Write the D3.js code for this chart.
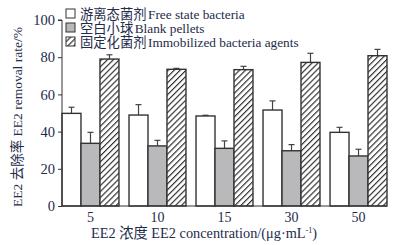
<!DOCTYPE html>
<html><head><meta charset="utf-8">
<script src="https://cdn.jsdelivr.net/npm/d3@7"></script>
<style>body{margin:0;background:#fff}svg{display:block}text{font-family:"Liberation Serif","Noto Sans CJK SC",serif;fill:#1e2b4a}</style>
</head><body><svg id="c" width="394" height="245"></svg>
<script>
const categories = ["5","10","15","30","50"];
const seriesCn = ["游离态菌剂","空白小球","固定化菌剂"];
const seriesEn = ["Free state bacteria","Blank pellets","Immobilized bacteria agents"];
const freeVals = [49.8,48.9,48.4,51.6,39.6];
const freeErr = [3.3,5.6,0.4,4.9,2.7];
const blankVals = [33.7,32.3,31.0,29.7,26.9];
const blankErr = [5.9,3.0,4.0,3.3,3.6];
const immoVals = [79.0,73.5,73.3,77.2,80.8];
const immoErr = [2.3,0.5,1.8,4.9,3.4];
const yTicks = [0,20,40,60,80,100];

const svg = d3.select("#c");
const defs = svg.append("defs");
const pat = defs.append("pattern").attr("id","hatch").attr("patternUnits","userSpaceOnUse")
  .attr("width",4.2).attr("height",4.2).attr("patternTransform","rotate(45)");
pat.append("rect").attr("width",4.2).attr("height",4.2).attr("fill","#fff");
pat.append("line").attr("x1",0.6).attr("y1",0).attr("x2",0.6).attr("y2",4.2).attr("stroke","#222").attr("stroke-width",1.1);

const x0 = d3.scaleBand().domain(categories).range([62,387]).paddingInner(0.15).paddingOuter(0);
const sub = d3.scaleBand().domain([0,1,2]).range([0,x0.bandwidth()]);
const y = d3.scaleLinear().domain([0,100]).range([206,20]);

const series = [
  {vals:freeVals, err:freeErr, fill:"#fff"},
  {vals:blankVals, err:blankErr, fill:"#b9b9bb"},
  {vals:immoVals, err:immoErr, fill:"url(#hatch)"}
];

series.forEach((s,si)=>{
  const g = svg.append("g");
  categories.forEach((c,ci)=>{
    const bx = x0(c)+sub(si), v = s.vals[ci], e = s.err[ci];
    const cx = bx + sub.bandwidth()/2;
    g.append("line").attr("x1",cx).attr("x2",cx).attr("y1",y(v)).attr("y2",y(v+e)).attr("stroke","#444").attr("stroke-width",1.2);
    g.append("line").attr("x1",cx-3).attr("x2",cx+3).attr("y1",y(v+e)).attr("y2",y(v+e)).attr("stroke","#444").attr("stroke-width",1.2);
    g.append("rect").attr("x",bx).attr("y",y(v)).attr("width",sub.bandwidth()).attr("height",y(0)-y(v))
      .attr("fill",s.fill).attr("stroke","#333").attr("stroke-width",1.4);
  });
});

// y axis
const ya = svg.append("g").attr("transform","translate(62,0)")
  .call(d3.axisLeft(y).tickValues(yTicks).tickSize(4).tickPadding(3));
ya.select(".domain").attr("stroke","#333").attr("d","M-4,"+y(100)+"H0V"+y(0));
ya.selectAll(".tick line").attr("stroke","#333");
ya.selectAll(".tick text").attr("font-size",14.5).style("fill","#1e2b4a").attr("font-family","Liberation Serif");

// x axis
const xa = svg.append("g").attr("transform","translate(0,206)")
  .call(d3.axisBottom(x0).tickSize(0).tickPadding(6));
xa.select(".domain").attr("stroke","#333").attr("d","M62,0H387");
xa.selectAll(".tick text").attr("font-size",14).style("fill","#1e2b4a").attr("font-family","Liberation Serif");

// titles
svg.append("text").attr("transform","translate(22,117) rotate(-90)").attr("text-anchor","middle")
  .attr("font-size",13.5).text("EE2 去除率 EE2 removal rate/%");
const xt = svg.append("text").attr("x",204).attr("y",238).attr("text-anchor","middle").attr("font-size",14.3);
xt.append("tspan").text("EE2 浓度 EE2 concentration/(μg·mL");
xt.append("tspan").attr("dy",-5).attr("font-size",8).text("-1");
xt.append("tspan").attr("dy",5).text(")");

// legend
const fills = ["#fff","#b9b9bb","url(#hatch)"];
seriesCn.forEach((n,i)=>{
  const ly = 14 + i*14;
  svg.append("rect").attr("x",66).attr("y",ly-5).attr("width",9).attr("height",9)
    .attr("fill",fills[i]).attr("stroke","#333").attr("stroke-width",1);
  const t = svg.append("text").attr("x",80).attr("y",ly+4.5).attr("font-size",13.3);
  t.append("tspan").text(n);
  t.append("tspan").attr("dx",1.5).text(seriesEn[i]);
});
</script></body></html>
